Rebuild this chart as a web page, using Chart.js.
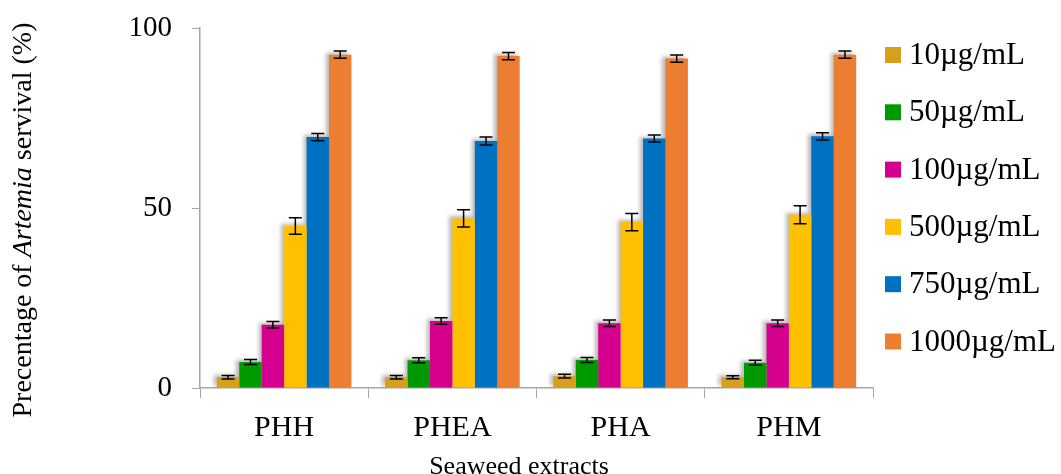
<!DOCTYPE html>
<html>
<head>
<meta charset="utf-8">
<script src="https://cdn.jsdelivr.net/npm/chart.js@4.4.1/dist/chart.umd.min.js"></script>
<style>
  html, body { margin: 0; padding: 0; background: #fff; }
  #wrap { width: 1061px; height: 474px; position: relative; }
</style>
</head>
<body>
<div id="wrap"><canvas id="c"></canvas></div>
<script>
// ---- data ----
const categories = ['PHH', 'PHEA', 'PHA', 'PHM'];
const seriesLabels = ['10µg/mL', '50µg/mL', '100µg/mL', '500µg/mL', '750µg/mL', '1000µg/mL'];
const c10   = [3.0, 3.0, 3.3, 3.0];
const c50   = [7.2, 7.7, 7.8, 7.0];
const c100  = [17.6, 18.6, 18.0, 18.0];
const c500  = [45.0, 47.1, 46.1, 48.1];
const c750  = [69.7, 68.6, 69.3, 69.9];
const c1000 = [92.6, 92.2, 91.5, 92.6];
const e10   = [0.5, 0.5, 0.5, 0.4];
const e50   = [0.7, 0.7, 0.7, 0.7];
const e100  = [0.9, 0.9, 0.9, 0.9];
const e500  = [2.3, 2.4, 2.4, 2.5];
const e750  = [1.0, 1.1, 1.0, 1.0];
const e1000 = [1.0, 1.0, 1.0, 1.0];
const yTicks = [0, 50, 100];
const xTitle = 'Seaweed extracts';
const yTitleParts = [['Precentage of ', false], ['Artemia', true], [' servival (%)', false]];

const colors = ['#D6A01C', '#009A00', '#D6008F', '#FFC000', '#0070C0', '#ED7D31'];
const values = [c10, c50, c100, c500, c750, c1000];
const errors = [e10, e50, e100, e500, e750, e1000];

const serif = "'Liberation Serif', 'Times New Roman', serif";
const axisGray = '#A6A6A6';

const datasets = seriesLabels.map((l, i) => ({
  label: l,
  data: values[i],
  errors: errors[i],
  backgroundColor: colors[i],
  borderWidth: 0,
  categoryPercentage: 0.8,
  barPercentage: 1.0
}));

const shadowPlugin = {
  id: 'shadow',
  beforeDatasetsDraw(chart) {
    const ctx = chart.ctx;
    ctx.save();
    ctx.shadowColor = 'rgba(0,0,0,0.28)';
    ctx.shadowBlur = 4;
    ctx.shadowOffsetX = -3;
    ctx.shadowOffsetY = -2;
  },
  afterDatasetsDraw(chart) {
    chart.ctx.restore();
  }
};

const errorBarPlugin = {
  id: 'errorBars',
  afterDatasetsDraw(chart) {
    const ctx = chart.ctx;
    const y = chart.scales.y;
    ctx.save();
    ctx.strokeStyle = '#000';
    ctx.lineWidth = 1.5;
    chart.data.datasets.forEach((ds, di) => {
      const meta = chart.getDatasetMeta(di);
      meta.data.forEach((bar, i) => {
        const v = ds.data[i], e = ds.errors[i];
        const x = bar.x;
        const yt = y.getPixelForValue(v + e);
        const yb = y.getPixelForValue(v - e);
        const cw = 6.5;
        ctx.beginPath();
        ctx.moveTo(x, yt); ctx.lineTo(x, yb);
        ctx.moveTo(x - cw, yt); ctx.lineTo(x + cw, yt);
        ctx.moveTo(x - cw, yb); ctx.lineTo(x + cw, yb);
        ctx.stroke();
      });
    });
    ctx.restore();
  }
};

const textPlugin = {
  id: 'texts',
  afterDraw(chart) {
    const ctx = chart.ctx;
    ctx.save();
    // legend
    ctx.font = '31px ' + serif;
    ctx.textBaseline = 'middle';
    ctx.textAlign = 'left';
    chart.data.datasets.forEach((ds, i) => {
      const cy = 55 + i * 57.3;
      ctx.fillStyle = ds.backgroundColor;
      ctx.fillRect(885, cy - 8, 16, 16);
      ctx.fillStyle = '#000';
      ctx.fillText(ds.label, 909, cy + 1);
    });
    // x title
    ctx.font = '26px ' + serif;
    ctx.textAlign = 'center';
    ctx.textBaseline = 'alphabetic';
    ctx.fillText(xTitle, 519, 474);
    // y title (mixed italic)
    ctx.translate(31, 220);
    ctx.rotate(-Math.PI / 2);
    const fonts = yTitleParts.map(p => (p[1] ? 'italic ' : '') + '28px ' + serif);
    let total = 0;
    const widths = yTitleParts.map((p, i) => { ctx.font = fonts[i]; const w = ctx.measureText(p[0]).width; total += w; return w; });
    let x = -total / 2;
    ctx.textAlign = 'left';
    yTitleParts.forEach((p, i) => {
      ctx.font = fonts[i];
      ctx.fillText(p[0], x, 0);
      x += widths[i];
    });
    ctx.restore();
  }
};

new Chart(document.getElementById('c'), {
  type: 'bar',
  data: { labels: categories, datasets },
  plugins: [shadowPlugin, errorBarPlugin, textPlugin],
  options: {
    responsive: true,
    maintainAspectRatio: false,
    animation: false,
    layout: { padding: { left: 0, right: 188, top: 28, bottom: 0 } },
    plugins: {
      legend: { display: false },
      tooltip: { enabled: false },
      title: { display: false }
    },
    scales: {
      x: {
        grid: { display: true, drawOnChartArea: false, drawTicks: true, tickLength: 10, color: axisGray, offset: true },
        border: { display: true, color: axisGray, width: 1.5 },
        ticks: { color: '#000', font: { family: serif, size: 30 }, padding: 12, maxRotation: 0 },
        afterFit(s) { s.height = 86; s.paddingLeft = 0; s.paddingRight = 0; }
      },
      y: {
        min: 0,
        max: 100,
        afterBuildTicks(s) { s.ticks = yTicks.map(v => ({ value: v })); },
        grid: { display: true, drawOnChartArea: false, drawTicks: true, tickLength: 8, color: axisGray },
        border: { display: true, color: axisGray, width: 1.5 },
        ticks: { color: '#000', font: { family: serif, size: 29 }, padding: 20 },
        afterFit(s) { s.width = 200; s.paddingTop = 0; s.paddingBottom = 0; }
      }
    }
  }
});
</script>
</body>
</html>
